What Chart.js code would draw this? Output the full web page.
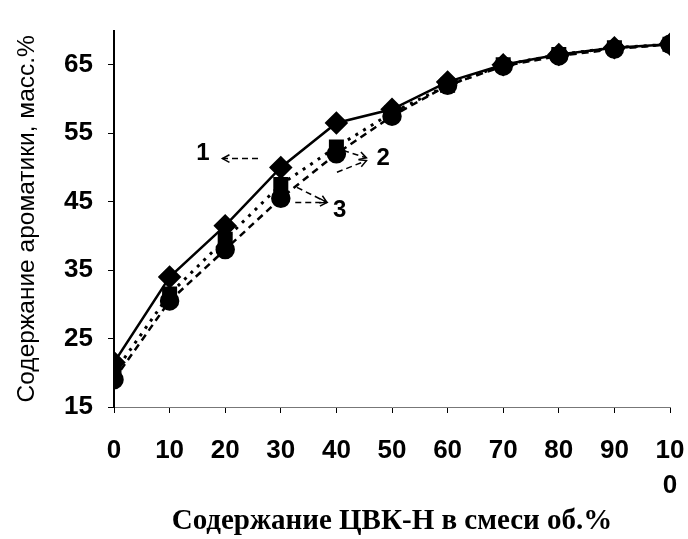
<!DOCTYPE html>
<html>
<head>
<meta charset="utf-8">
<script src="https://cdn.jsdelivr.net/npm/chart.js@4"></script>
<style>
  html, body { margin: 0; padding: 0; background: #fff; }
  #wrap { width: 688px; height: 539px; }
</style>
</head>
<body>
<div id="wrap"><canvas id="aroma_chart"></canvas></div>
<script>
        // Data
        const xValues = [0, 10, 20, 30, 40, 50, 60, 70, 80, 90, 100];
        const series1 = [21.5, 34, 41.5, 50, 56.5, 58.5, 62.5, 65, 66.5, 67.5, 68];
        const series2 = [20, 31.5, 39.5, 47.5, 53, 58, 62, 65, 66.5, 67.5, 68];
        const series3 = [19, 30.5, 38, 45.5, 52, 57.5, 62, 64.8, 66.3, 67.3, 68];
        const yTicks = [15, 25, 35, 45, 55, 65];

        const toPoints = (ys) => ys.map((y, i) => ({ x: xValues[i], y: y }));

        // Curve labels with arrows, in data coordinates
        const curveLabels = [
            { text: '1', x: 16, y: 52.1, arrows: [[[25.9, 51.3], [19.5, 51.3]]] },
            { text: '2', x: 48.4, y: 51.3, arrows: [[[41.2, 52.5], [45.4, 51.4]], [[40.1, 49.3], [45.4, 51.0]]] },
            { text: '3', x: 40.6, y: 43.8, arrows: [[[32.9, 47.1], [38.3, 44.9]], [[32.6, 44.9], [38.3, 44.9]]] }
        ];

        const labelPlugin = {
            id: 'curveLabels',
            afterDatasetsDraw(chart) {
                const ctx = chart.ctx;
                const xs = chart.scales.x, ys = chart.scales.y;
                ctx.save();
                ctx.fillStyle = '#000';
                ctx.strokeStyle = '#000';
                ctx.font = 'bold 24px "Liberation Sans", Arial, sans-serif';
                ctx.textAlign = 'center';
                ctx.textBaseline = 'middle';
                curveLabels.forEach(l => {
                    ctx.fillText(l.text, xs.getPixelForValue(l.x), ys.getPixelForValue(l.y));
                    l.arrows.forEach(a => {
                        const x0 = xs.getPixelForValue(a[0][0]), y0 = ys.getPixelForValue(a[0][1]);
                        const x1 = xs.getPixelForValue(a[1][0]), y1 = ys.getPixelForValue(a[1][1]);
                        ctx.lineWidth = 1.5;
                        ctx.setLineDash([6, 4]);
                        ctx.beginPath();
                        ctx.moveTo(x0, y0);
                        ctx.lineTo(x1, y1);
                        ctx.stroke();
                        // arrow head
                        const ang = Math.atan2(y1 - y0, x1 - x0);
                        ctx.setLineDash([]);
                        ctx.beginPath();
                        ctx.moveTo(x1 - 8 * Math.cos(ang - 0.5), y1 - 8 * Math.sin(ang - 0.5));
                        ctx.lineTo(x1, y1);
                        ctx.lineTo(x1 - 8 * Math.cos(ang + 0.5), y1 - 8 * Math.sin(ang + 0.5));
                        ctx.stroke();
                    });
                });
                ctx.restore();
            }
        };

        const data = {
            datasets: [{
                label: '1',
                data: toPoints(series1),
                borderColor: '#000',
                backgroundColor: '#000',
                borderWidth: 2.5,
                pointStyle: 'rectRot',
                pointRadius: 10
            }, {
                label: '2',
                data: toPoints(series2),
                borderColor: '#000',
                backgroundColor: '#000',
                borderWidth: 3,
                borderDash: [3, 6],
                pointStyle: 'rect',
                pointRadius: 8.5
            }, {
                label: '3',
                data: toPoints(series3),
                borderColor: '#000',
                backgroundColor: '#000',
                borderWidth: 2.5,
                borderDash: [7, 5],
                pointStyle: 'circle',
                pointRadius: 8.5
            }]
        };

        const config = {
            type: 'line',
            data: data,
            plugins: [labelPlugin],
            options: {
                responsive: true,
                maintainAspectRatio: false,
                animation: false,
                layout: { padding: { top: 30, right: 18, left: 0, bottom: 0 } },
                plugins: {
                    legend: { display: false },
                    tooltip: { enabled: false }
                },
                scales: {
                    x: {
                        type: 'linear',
                        min: 0,
                        max: 100,
                        afterFit: (s) => { s.height = 132; s.paddingLeft = 0; s.paddingRight = 0; },
                        border: { color: '#777', width: 1, dash: [30, 14] },
                        grid: { drawOnChartArea: false, drawTicks: true, tickLength: 6, color: '#000' },
                        ticks: {
                            stepSize: 10,
                            padding: 20,
                            color: '#000',
                            maxRotation: 0,
                            font: { family: '"Liberation Sans", Arial, sans-serif', size: 26, weight: 'bold', lineHeight: 1.35 },
                            callback: (v) => v === 100 ? ['10', '0'] : String(v)
                        },
                        title: {
                            display: true,
                            text: 'Содержание ЦВК-Н в смеси об.%',
                            color: '#000',
                            padding: { top: 0, bottom: 0 },
                            font: { family: '"Liberation Serif", "Times New Roman", serif', size: 29, weight: 'bold' }
                        }
                    },
                    y: {
                        min: 15,
                        max: 70,
                        afterFit: (s) => { s.width = 114; },
                        afterBuildTicks: (s) => { s.ticks = yTicks.map(v => ({ value: v })); },
                        border: { color: '#000', width: 2 },
                        grid: { drawOnChartArea: false, drawTicks: true, tickLength: 6, color: '#000' },
                        ticks: {
                            padding: 15,
                            color: '#000',
                            font: { family: '"Liberation Sans", Arial, sans-serif', size: 26, weight: 'bold' }
                        },
                        title: {
                            display: true,
                            text: 'Содержание ароматики, масс.%',
                            color: '#000',
                            padding: { top: 13, bottom: 0 },
                            font: { family: '"Liberation Sans", Arial, sans-serif', size: 24.5 }
                        }
                    }
                }
            }
        };

        // Render the chart
        const aroma_chart = new Chart(document.getElementById('aroma_chart'), config);
</script>
</body>
</html>
